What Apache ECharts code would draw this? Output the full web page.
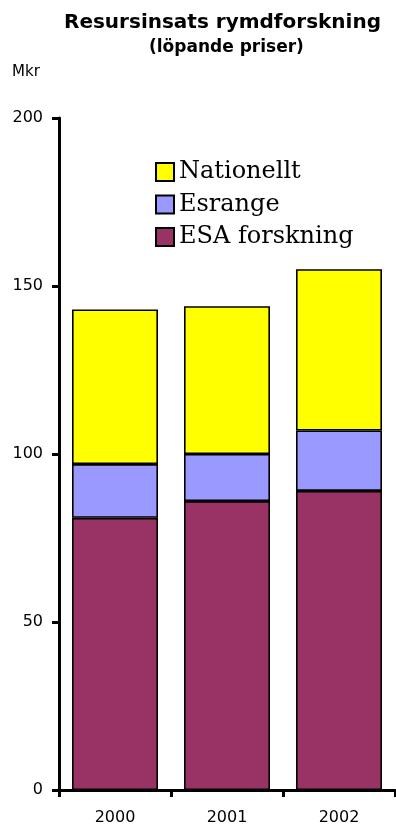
<!DOCTYPE html>
<html>
<head>
<meta charset="utf-8">
<style>
  html, body { margin: 0; padding: 0; background: #fff; }
  #chart { width: 396px; height: 831px; }
</style>
<script src="https://cdn.jsdelivr.net/npm/echarts@6/dist/echarts.min.js"></script>
</head>
<body>
<div id="chart"></div>
<script>
// Space research spending, MSEK in current prices
const years = ['2000', '2001', '2002'];
const esaForskning = [81, 86, 89];
const esrange = [16, 14, 18];
const nationellt = [46, 44, 48];
const yTicks = [0, 50, 100, 150, 200];

const sans = 'DejaVu Sans';
const serif = 'DejaVu Serif';

const chart = echarts.init(document.getElementById('chart'), null, { renderer: 'canvas' });

function stackSeries(name, data, color) {
  return {
    name: name,
    type: 'bar',
    stack: 'total',
    data: data,
    barWidth: 86,
    itemStyle: { color: color, borderColor: '#000', borderWidth: 1.6 },
    emphasis: { disabled: true },
    animation: false
  };
}

chart.setOption({
  animation: false,
  backgroundColor: '#fff',
  graphic: [
    {
      type: 'text', left: 64, top: 13,
      style: { text: 'Resursinsats rymdforskning', font: 'bold 20px "' + sans + '"', fill: '#000' }
    },
    {
      type: 'text', top: 39, left: 149,
      style: { text: '(löpande priser)', font: 'bold 17px "' + sans + '"', fill: '#000' }
    },
    {
      type: 'text', left: 12, top: 65,
      style: { text: 'Mkr', font: '15px "' + sans + '"', fill: '#000' }
    }
  ],
  legend: {
    orient: 'vertical',
    left: 155,
    top: 160,
    padding: 0,
    itemWidth: 18,
    itemHeight: 18,
    itemGap: 8.5,
    icon: 'rect',
    data: ['Nationellt', 'Esrange', 'ESA forskning'],
    textStyle: { fontFamily: serif, fontSize: 24, lineHeight: 24, color: '#000' },
    selectedMode: false
  },
  grid: { left: 59, right: 1, top: 118, bottom: 41, containLabel: false },
  xAxis: {
    type: 'category',
    data: years,
    axisLine: { lineStyle: { color: '#000', width: 3 } },
    axisTick: { show: true, alignWithLabel: false, length: 7, lineStyle: { color: '#000', width: 3 } },
    axisLabel: { color: '#000', fontFamily: sans, fontSize: 16, margin: 20 },
    splitLine: { show: false }
  },
  yAxis: {
    type: 'value',
    min: yTicks[0],
    max: yTicks[yTicks.length - 1],
    interval: 50,
    axisLine: { show: true, lineStyle: { color: '#000', width: 3 } },
    axisTick: { show: true, length: 7, lineStyle: { color: '#000', width: 3 } },
    axisLabel: { color: '#000', fontFamily: sans, fontSize: 16, margin: 16 },
    splitLine: { show: false }
  },
  series: [
    stackSeries('ESA forskning', esaForskning, '#993366'),
    stackSeries('Esrange', esrange, '#9999FF'),
    stackSeries('Nationellt', nationellt, '#FFFF00')
  ]
});
</script>
</body>
</html>
